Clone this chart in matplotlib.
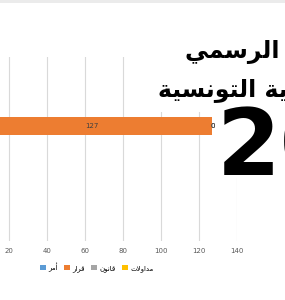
import matplotlib
matplotlib.use("Agg")
import matplotlib.pyplot as plt
import numpy as np
from matplotlib.patches import Rectangle

# categories (bottom to top, as Excel draws them)
categories = ["1", "2", "3", "4"]
series_names = ["أمر", "قرار", "قانون", "مداولات"]
# shaped (presentation forms, visual order) versions of the series names
series_labels = [
    "\uFEAE\uFEE3\uFE83",
    "\uFEAD\uFE8D\uFEAE\uFED7",
    "\uFEE5\uFEEE\uFEE7\uFE8E\uFED7",
    "\uFE95\uFEFB\uFEED\uFE8D\uFEAA\uFEE3",
]
amr = [0, 0, 0, 0]
qarar = [0, 0, 127, 0]
qanun = [0, 0, 0, 0]
mudawalat = [0, 0, 0, 0]
colors = ["#5B9BD5", "#ED7D31", "#A5A5A5", "#FFC000"]
xticks = [0, 20, 40, 60, 80, 100, 120, 140]

# overlay text (الرائد الرسمي / للجمهورية التونسية), shaped by hand
line1 = ("\uFEF2\uFEE4\uFEB3\uFEAE\uFEDF\uFE8D" + " " +
         "\uFEAA\uFE8B\uFE8D\uFEAE\uFEDF\uFE8D")
line2 = ("\uFE94\uFEF4\uFEB4\uFEE7\uFEEE\uFE98\uFEDF\uFE8D" + " " +
         "\uFE94\uFEF3\uFEAD\uFEEE\uFEEC\uFEE4\uFEA0\uFEE0\uFEDF")
year = "20"

W, H = 285, 300
fig = plt.figure(figsize=(W / 100, H / 100), dpi=100)
fig.patch.set_facecolor("white")

# axes: 0 sits at x=-29px, 20 units = 38px
ax = fig.add_axes([-29 / W, 1 - 241 / H, 1.9 * 140 / W, 184 / H])
ax.set_xlim(0, 140)
ax.set_ylim(-0.5, len(categories) - 0.5)

y = np.arange(len(categories))
left = np.zeros(len(categories))
for vals, lab, c in zip([amr, qarar, qanun, mudawalat], series_labels, colors):
    bars = ax.barh(y, vals, left=left, height=0.4, color=c, label=lab, zorder=3)
    ax.bar_label(bars, label_type="center", fontsize=5, color="#404040")
    left += np.array(vals)

ax.set_xticks(xticks)
ax.set_yticks(y)
ax.set_yticklabels(categories)
ax.grid(axis="x", color="#D9D9D9", linewidth=0.8, zorder=0)
ax.tick_params(axis="both", length=0, labelsize=5, labelcolor="#595959", pad=5)
for s in ax.spines.values():
    s.set_visible(False)

fig.legend(loc="center", bbox_to_anchor=(97 / W, 1 - 267 / H), ncol=4,
           frameon=False, handlelength=0.8, handleheight=0.8,
           handletextpad=0.4, columnspacing=0.9,
           prop={"family": ["DejaVu Sans"], "size": 5})

# thin gray strip along the top edge
fig.patches.append(Rectangle((0, 1 - 3 / H), 1, 3 / H, transform=fig.transFigure,
                             facecolor="#EBEBEB", edgecolor="none", zorder=5))

# white picture pasted over the chart
fig.patches.append(Rectangle((160 / W, 1 - 112 / H), 1, 82 / H, transform=fig.transFigure,
                             facecolor="white", edgecolor="none", zorder=6))
fig.patches.append(Rectangle((216 / W, 1 - 178 / H), 1, 70 / H, transform=fig.transFigure,
                             facecolor="white", edgecolor="none", zorder=6))

fig.text(185 / W, 1 - 58 / H, line1, fontsize=17, fontweight="bold",
         family=["DejaVu Sans"], ha="left", va="baseline", zorder=7)
fig.text(158 / W, 1 - 97 / H, line2, fontsize=17, fontweight="bold",
         family=["DejaVu Sans"], ha="left", va="baseline", zorder=7)
fig.text(217 / W, 1 - 175 / H, year, fontsize=66, fontweight="bold",
         family=["Liberation Sans Narrow", "DejaVu Sans"], ha="left",
         va="baseline", zorder=7)

fig.savefig("out.png", dpi=100)
